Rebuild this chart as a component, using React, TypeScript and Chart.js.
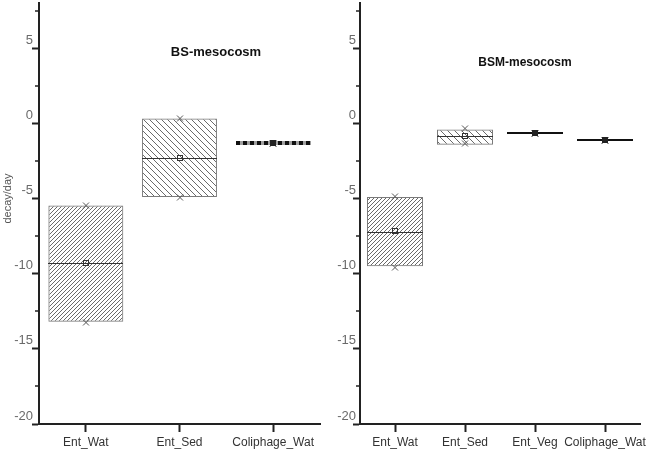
import React, { useEffect, useRef } from 'react';
import { Chart, registerables } from 'chart.js';

Chart.register(...registerables);

// ---------- data ----------
const BS_CATEGORIES = ['Ent_Wat', 'Ent_Sed', 'Coliphage_Wat'];
const BS_Q1 = [-13.2, -4.9, -1.33];
const BS_Q3 = [-5.47, 0.31, -1.33];
const BS_MEDIAN = [-9.27, -2.29, -1.33];
const BS_MEAN = [-9.27, -2.29, -1.33];
const BS_MIN = [-13.2, -4.87, -1.33];
const BS_MAX = [-5.45, 0.38, -1.33];

const BSM_CATEGORIES = ['Ent_Wat', 'Ent_Sed', 'Ent_Veg', 'Coliphage_Wat'];
const BSM_Q1 = [-9.51, -1.42, -0.62, -1.11];
const BSM_Q3 = [-4.9, -0.42, -0.62, -1.11];
const BSM_MEDIAN = [-7.22, -0.82, -0.62, -1.11];
const BSM_MEAN = [-7.18, -0.84, -0.62, -1.11];
const BSM_MIN = [-9.55, -1.33, -0.62, -1.11];
const BSM_MAX = [-4.84, -0.29, -0.62, -1.11];

const Y_MAJOR_TICKS = [-20, -15, -10, -5, 0, 5];
const Y_MINOR_TICKS = [-17.5, -12.5, -7.5, -2.5, 2.5, 7.5];
const Y_MIN = -20;
const Y_MAX = 8;
const Y_TITLE = 'decay/day';

const FONT = '"Liberation Sans", Arial, Helvetica, sans-serif';

type Hatch = 'fwd' | 'back' | 'none';

interface PanelProps {
  categories: string[];
  q1: number[];
  q3: number[];
  median: number[];
  mean: number[];
  min: number[];
  max: number[];
  hatch: Hatch[];
  hatchSize: number[];
  flatStyle: 'dashed' | 'solid';
  title: string;
  titleX: number;
  titleY: number;
  titleSize: number;
  showYTitle: boolean;
  left: number;
  width: number;
  yAxisWidth: number;
  rightPad: number;
  yLabelPad: number;
}

function makeHatch(ctx: CanvasRenderingContext2D, dir: Hatch, size: number, color: string) {
  if (dir === 'none') return 'rgba(0,0,0,0)';
  const c = document.createElement('canvas');
  c.width = size;
  c.height = size;
  const g = c.getContext('2d')!;
  g.strokeStyle = color;
  g.lineWidth = 1;
  g.beginPath();
  if (dir === 'fwd') {
    g.moveTo(-1, size + 1);
    g.lineTo(size + 1, -1);
    g.moveTo(-1, 1);
    g.lineTo(1, -1);
    g.moveTo(size - 1, size + 1);
    g.lineTo(size + 1, size - 1);
  } else {
    g.moveTo(-1, -1);
    g.lineTo(size + 1, size + 1);
    g.moveTo(size - 1, -1);
    g.lineTo(size + 1, 1);
    g.moveTo(-1, size - 1);
    g.lineTo(1, size + 1);
  }
  g.stroke();
  return ctx.createPattern(c, 'repeat') as CanvasPattern;
}

function Panel(p: PanelProps) {
  const ref = useRef<HTMLCanvasElement | null>(null);

  useEffect(() => {
    const canvas = ref.current;
    if (!canvas) return;
    const ctx2d = canvas.getContext('2d')!;
    const patterns = p.hatch.map((h, i) => makeHatch(ctx2d, h, p.hatchSize[i], '#6a6a6a'));
    const borderWidths = p.q1.map((v, i) => (v === p.q3[i] ? 0 : 1));

    const extras = {
      id: 'boxExtras',
      afterDatasetsDraw(chart: any) {
        const ctx: CanvasRenderingContext2D = chart.ctx;
        const y = chart.scales.y;
        const meta = chart.getDatasetMeta(0);
        meta.data.forEach((bar: any, i: number) => {
          const x = Math.round(bar.x);
          const w = bar.width;
          const x0 = Math.round(bar.x - w / 2);
          const x1 = Math.round(bar.x + w / 2);
          const ym = Math.round(y.getPixelForValue(p.median[i]));
          const flat = p.q1[i] === p.q3[i];
          ctx.save();
          if (flat) {
            if (p.flatStyle === 'dashed') {
              ctx.strokeStyle = '#a0a0a0';
              ctx.lineWidth = 4;
              ctx.beginPath();
              ctx.moveTo(x0, ym);
              ctx.lineTo(x1, ym);
              ctx.stroke();
              ctx.strokeStyle = '#111';
              ctx.setLineDash([4, 3]);
              ctx.beginPath();
              ctx.moveTo(x0, ym);
              ctx.lineTo(x1, ym);
              ctx.stroke();
              ctx.setLineDash([]);
            } else {
              ctx.strokeStyle = '#111';
              ctx.lineWidth = 2;
              ctx.beginPath();
              ctx.moveTo(x0, ym);
              ctx.lineTo(x1, ym);
              ctx.stroke();
            }
          } else {
            ctx.strokeStyle = '#333';
            ctx.lineWidth = 1;
            ctx.beginPath();
            ctx.moveTo(x0, ym + 0.5);
            ctx.lineTo(x1, ym + 0.5);
            ctx.stroke();
          }
          // mean square
          const yMean = Math.round(y.getPixelForValue(p.mean[i]));
          ctx.strokeStyle = '#333';
          ctx.lineWidth = 1;
          if (flat) {
            ctx.fillStyle = '#222';
            ctx.fillRect(x - 3, yMean - 3, 6, 6);
          } else {
            ctx.strokeRect(x - 2.5, yMean - 2.5, 5, 5);
          }
          // min / max crosses
          ctx.strokeStyle = flat ? '#222' : '#555';
          [p.min[i], p.max[i]].forEach((v) => {
            const yy = Math.round(y.getPixelForValue(v)) + 0.5;
            ctx.beginPath();
            ctx.moveTo(x - 3, yy - 3);
            ctx.lineTo(x + 3, yy + 3);
            ctx.moveTo(x - 3, yy + 3);
            ctx.lineTo(x + 3, yy - 3);
            ctx.stroke();
          });
          ctx.restore();
        });
      },
      afterDraw(chart: any) {
        const ctx: CanvasRenderingContext2D = chart.ctx;
        const y = chart.scales.y;
        const area = chart.chartArea;
        ctx.save();
        // minor ticks
        ctx.strokeStyle = '#222';
        ctx.lineWidth = 1.5;
        Y_MINOR_TICKS.forEach((v) => {
          const yy = Math.round(y.getPixelForValue(v));
          ctx.beginPath();
          ctx.moveTo(area.left - 4, yy);
          ctx.lineTo(area.left, yy);
          ctx.stroke();
        });
        // panel title
        ctx.fillStyle = '#111';
        ctx.font = `bold ${p.titleSize}px ${FONT}`;
        ctx.textAlign = 'center';
        ctx.textBaseline = 'middle';
        ctx.fillText(p.title, p.titleX, p.titleY);
        // y title
        if (p.showYTitle) {
          ctx.translate(8, y.getPixelForValue(-5));
          ctx.rotate(-Math.PI / 2);
          ctx.font = `11px ${FONT}`;
          ctx.fillStyle = '#555';
          ctx.fillText(Y_TITLE, 0, 0);
        }
        ctx.restore();
      },
    };

    const chart = new Chart(canvas, {
      type: 'bar',
      data: {
        labels: p.categories,
        datasets: [
          {
            data: p.q1.map((v, i) => [v, p.q3[i]]) as any,
            backgroundColor: patterns as any,
            borderColor: '#7a7a7a',
            borderWidth: borderWidths,
            borderSkipped: false,
            barPercentage: 0.8,
            categoryPercentage: 1.0,
          },
        ],
      },
      options: {
        responsive: false,
        animation: false,
        events: [],
        devicePixelRatio: 1,
        layout: { padding: { top: 3, right: p.rightPad, left: 0, bottom: 0 } },
        plugins: {
          legend: { display: false },
          tooltip: { enabled: false },
          title: { display: false },
        },
        scales: {
          x: {
            type: 'category',
            offset: true,
            grid: {
              offset: false,
              drawOnChartArea: false,
              drawTicks: true,
              tickLength: 8,
              tickColor: '#222',
              tickWidth: 2,
            },
            border: { display: true, color: '#222', width: 2 },
            ticks: {
              color: '#333',
              font: { family: FONT, size: 12 },
              padding: 3,
              maxRotation: 0,
              autoSkip: false,
            },
            afterFit(scale: any) {
              scale.height = 29;
              scale.paddingLeft = 0;
              scale.paddingRight = 0;
            },
          },
          y: {
            type: 'linear',
            min: Y_MIN,
            max: Y_MAX,
            afterBuildTicks(scale: any) {
              scale.ticks = Y_MAJOR_TICKS.map((v) => ({ value: v }));
            },
            grid: {
              drawOnChartArea: false,
              drawTicks: true,
              tickLength: 7,
              tickColor: '#222',
              tickWidth: 2,
            },
            border: { display: true, color: '#222', width: 2 },
            ticks: {
              color: '#6a6a6a',
              font: { family: FONT, size: 13 },
              padding: p.yLabelPad,
              labelOffset: -8,
              callback: (v: any) => String(v),
            },
            afterFit(scale: any) {
              scale.width = p.yAxisWidth;
              scale.paddingTop = 0;
              scale.paddingBottom = 0;
            },
          },
        },
      },
      plugins: [extras],
    } as any);

    return () => chart.destroy();
  }, []);

  return (
    <canvas
      ref={ref}
      width={p.width}
      height={453}
      style={{ position: 'absolute', left: p.left, top: 0, width: p.width, height: 453, display: 'block' }}
    />
  );
}

export default function App() {
  return (
    <div style={{ position: 'absolute', left: 0, top: 0, width: 649, height: 453, background: '#fff', overflow: 'hidden' }}>
      <Panel
        categories={BS_CATEGORIES}
        q1={BS_Q1}
        q3={BS_Q3}
        median={BS_MEDIAN}
        mean={BS_MEAN}
        min={BS_MIN}
        max={BS_MAX}
        hatch={['fwd', 'back', 'none']}
        hatchSize={[4, 6, 6]}
        flatStyle="dashed"
        title="BS-mesocosm"
        titleX={216}
        titleY={52}
        titleSize={13}
        showYTitle={true}
        left={0}
        width={324}
        yAxisWidth={39}
        rightPad={4}
        yLabelPad={-1}
      />
      <Panel
        categories={BSM_CATEGORIES}
        q1={BSM_Q1}
        q3={BSM_Q3}
        median={BSM_MEDIAN}
        mean={BSM_MEAN}
        min={BSM_MIN}
        max={BSM_MAX}
        hatch={['fwd', 'back', 'none', 'none']}
        hatchSize={[4, 7, 6, 6]}
        flatStyle="solid"
        title="BSM-mesocosm"
        titleX={201}
        titleY={63}
        titleSize={12}
        showYTitle={false}
        left={324}
        width={325}
        yAxisWidth={36}
        rightPad={9}
        yLabelPad={-3}
      />
    </div>
  );
}
